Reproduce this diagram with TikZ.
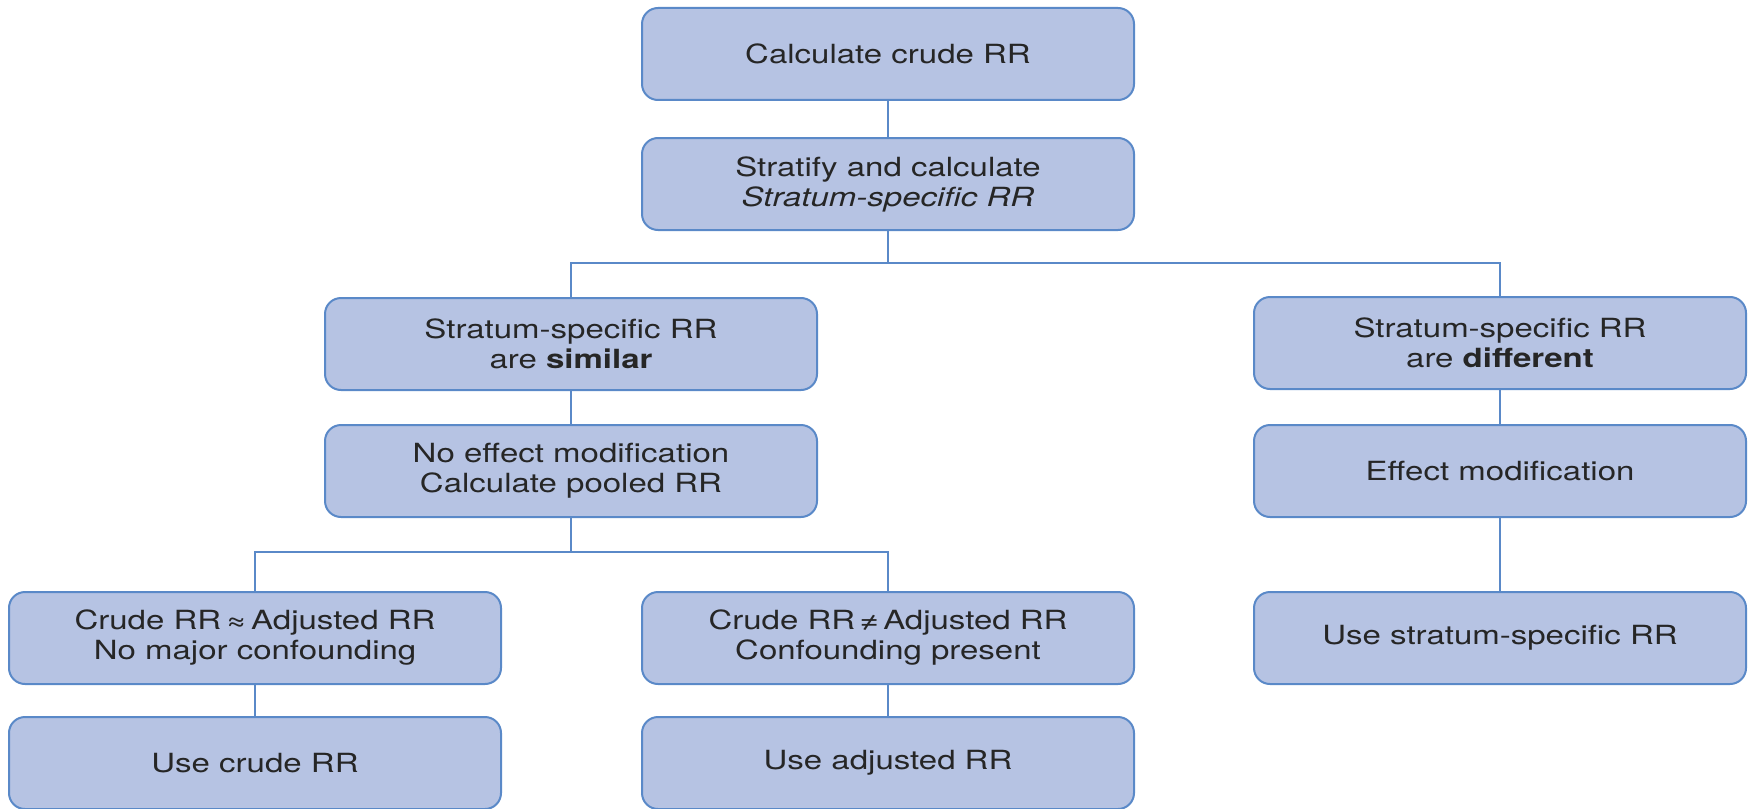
\documentclass[tikz,border=0pt]{standalone}
\usepackage{fontspec}
\setmainfont[FakeStretch=1.25]{TeX Gyre Heros}
\usepackage{tikz}

\definecolor{boxfill}{HTML}{B6C3E3}
\definecolor{boxline}{HTML}{5A89C8}
\definecolor{textgray}{HTML}{262626}

\begin{document}
\begin{tikzpicture}[x=0.5pt,y=-0.5pt]
	 \tikzstyle{box}=[draw=boxline,fill=boxfill,line width=1pt,rounded corners=8pt,
		minimum width=246pt,minimum height=46pt,align=center,text=textgray,
		font=\fontsize{13.2}{15}\selectfont,inner sep=0pt]
	 \tikzstyle{link} = [draw,line width=0.8pt,-,boxline]

	 \useasboundingbox (0,0) rectangle (1748,808);

	 \node[box] (crude) at (888,54) 			{Calculate crude RR};
	 \node[box] (strat) at (888,184) 		{Stratify and calculate\\\textit{Stratum-specific RR}};
	 \node[box] (similar) at (571,344)		{Stratum-specific RR\\are \textbf{similar}};
	 \node[box] (different) at (1500,343)	{Stratum-specific RR\\are \textbf{different}};
	 \node[box] (nomod) at (571,471)		{No effect modification\\Calculate pooled RR};
	 \node[box] (effect) at (1500,471)		{Effect modification};
	 \node[box] (approx) at (255,638)		{Crude RR\,≈\,Adjusted RR\\No major confounding};
	 \node[box] (neq) at (888,638)			{Crude RR\,≠\,Adjusted RR\\Confounding present};
	 \node[box] (usestrat) at (1500,638)	{Use stratum-specific RR};
	 \node[box] (usecrude) at (255,763)		{Use crude RR};
	 \node[box] (useadj) at (888,763)		{Use adjusted RR};

	 \coordinate (split1) at (888,263);
	 \coordinate (split2) at (571,552);

	\draw[link] (crude) -- (strat);
	\draw[link] (strat) -- (split1) -| (similar);
	\draw[link] (split1) -| (different);
	\draw[link] (similar) -- (nomod);
	\draw[link] (different) -- (effect);
	\draw[link] (effect) -- (usestrat);
	\draw[link] (nomod) -- (split2) -| (approx);
	\draw[link] (split2) -| (neq);
	\draw[link] (approx) -- (usecrude);
	\draw[link] (neq) -- (useadj);
\end{tikzpicture}
\end{document}
